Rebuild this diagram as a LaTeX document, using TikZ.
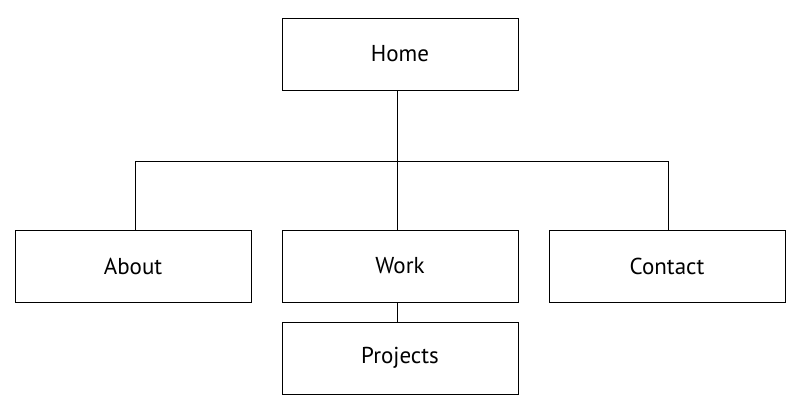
\documentclass[tikz,border=0pt]{standalone}
\usepackage{fontspec}
\setmainfont{PT Sans}
\begin{document}
\begin{tikzpicture}[x=1pt,y=-1pt,
  page/.style={draw=black,line width=1pt,minimum width=236pt,minimum height=72pt,
    inner sep=0pt,font=\fontsize{23}{27}\selectfont},
  link/.style={draw=black,line width=1pt}]
  \useasboundingbox (0,0) rectangle (802,413);
  \fill[white] (0,0) rectangle (802,413);
  \node[page] (home) at (400,54) {Home};
  \node[page] (about) at (133,266) {About};
  \node[page] (work) at (400,266) {Work};
  \node[page] (contact) at (667,266) {Contact};
  \node[page] (projects) at (400,358) {Projects};
  \coordinate (hub) at (397,161);
  \draw[link] (home.south -| hub) -- (hub);
  \draw[link] (hub) -| (about.north -| 135,0);
  \draw[link] (hub) -| (contact.north -| 668,0);
  \draw[link] (hub) -- (work.north -| hub);
  \draw[link] (work.south -| hub) -- (projects.north -| hub);
\end{tikzpicture}
\end{document}
